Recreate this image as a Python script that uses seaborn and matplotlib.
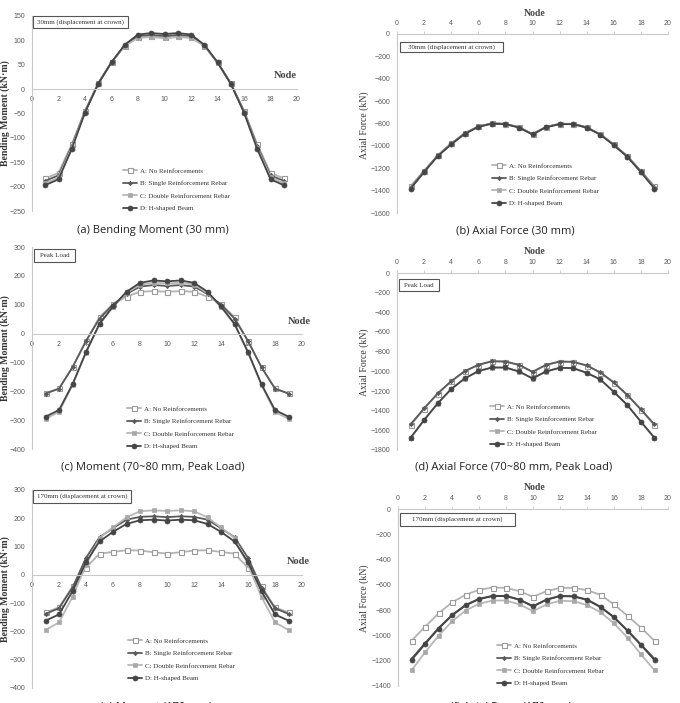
import pandas as pd
import matplotlib
matplotlib.use('Agg')
import matplotlib.pyplot as plt
import seaborn as sns
from matplotlib.lines import Line2D
from matplotlib.patches import Rectangle

W, H = 680, 703

nodes = list(range(1, 20))
cases = ['A: No Reinforcements', 'B: Single Reinforcement Rebar',
         'C: Double Reinforcement Rebar', 'D: H-shaped Beam']

# (a) bending moment, 30 mm
bm30_A = [-183, -172, -113, -44, 12, 55, 89, 106, 108, 106, 108, 106, 89, 55, 12, -44, -113, -172, -183]
bm30_B = [-188, -177, -117, -46, 12, 55, 90, 109, 111, 109, 111, 109, 90, 55, 12, -46, -117, -177, -188]
bm30_C = [-193, -181, -120, -47, 11, 54, 89, 105, 107, 104, 107, 105, 89, 54, 11, -47, -120, -181, -193]
bm30_D = [-197, -185, -123, -48, 11, 55, 91, 112, 115, 113, 115, 112, 91, 55, 11, -48, -123, -185, -197]

# (b) axial force, 30 mm
af30_A = [-1360, -1222, -1084, -978, -886, -826, -797, -802, -832, -893, -829, -802, -802, -833, -895, -987, -1090, -1222, -1360]
af30_B = [-1372, -1228, -1088, -982, -888, -828, -799, -804, -834, -896, -831, -804, -804, -835, -897, -990, -1094, -1228, -1372]
af30_C = [-1378, -1232, -1090, -985, -890, -830, -800, -805, -835, -897, -832, -805, -805, -836, -898, -992, -1096, -1232, -1378]
af30_D = [-1382, -1235, -1092, -987, -892, -831, -801, -806, -836, -898, -833, -806, -806, -837, -899, -994, -1098, -1235, -1382]

# (c) bending moment, peak load
bmpk_A = [-207, -190, -116, -25, 57, 103, 128, 145, 147, 145, 147, 145, 128, 103, 57, -25, -116, -190, -207]
bmpk_B = [-208, -191, -117, -26, 52, 100, 137, 163, 168, 165, 168, 163, 137, 100, 52, -26, -117, -191, -208]
bmpk_C = [-295, -272, -178, -66, 32, 92, 140, 170, 176, 174, 176, 170, 140, 92, 32, -66, -178, -272, -295]
bmpk_D = [-288, -265, -176, -64, 34, 94, 145, 176, 184, 181, 184, 176, 145, 94, 34, -64, -176, -265, -288]

# (d) axial force, peak load
afpk_A = [-1550, -1380, -1228, -1102, -1000, -936, -899, -902, -936, -1007, -936, -902, -905, -942, -1013, -1115, -1243, -1390, -1550]
afpk_B = [-1540, -1377, -1225, -1100, -998, -934, -897, -900, -934, -1005, -934, -900, -903, -940, -1011, -1113, -1241, -1387, -1540]
afpk_C = [-1680, -1498, -1328, -1182, -1074, -1000, -963, -963, -1003, -1074, -1003, -966, -969, -1017, -1084, -1210, -1345, -1515, -1680]
afpk_D = [-1675, -1495, -1326, -1180, -1072, -998, -961, -961, -1001, -1072, -1001, -964, -967, -1015, -1082, -1208, -1343, -1512, -1675]

# (e) bending moment, 170 mm
bm170_A = [-133, -115, -41, 25, 75, 81, 87, 86, 80, 75, 80, 86, 87, 81, 75, 25, -41, -115, -133]
bm170_B = [-138, -118, -45, 60, 133, 165, 195, 205, 207, 204, 207, 205, 195, 165, 133, 60, -45, -118, -138]
bm170_C = [-195, -168, -78, 35, 130, 168, 203, 225, 228, 226, 228, 225, 203, 168, 130, 35, -78, -168, -195]
bm170_D = [-162, -140, -58, 45, 118, 152, 180, 193, 195, 192, 195, 193, 180, 152, 118, 45, -58, -140, -162]

# (f) axial force, 170 mm
af170_A = [-1042, -932, -826, -739, -679, -639, -621, -624, -650, -695, -650, -624, -624, -642, -679, -755, -845, -939, -1042]
af170_B = [-1185, -1062, -942, -838, -760, -710, -687, -687, -716, -768, -716, -687, -690, -716, -773, -855, -960, -1072, -1185]
af170_C = [-1276, -1134, -1003, -889, -803, -750, -724, -724, -755, -808, -755, -726, -729, -760, -816, -905, -1018, -1150, -1276]
af170_D = [-1195, -1068, -947, -842, -763, -713, -689, -689, -718, -771, -718, -689, -692, -718, -776, -858, -963, -1076, -1195]

styles = [
    dict(color='#b3b3b3', marker='s', markerfacecolor='white', markeredgecolor='#9a9a9a', markersize=3.6, markeredgewidth=0.8),
    dict(color='#5a5a5a', marker='D', markerfacecolor='#5a5a5a', markeredgecolor='#5a5a5a', markersize=2.2, markeredgewidth=0.5),
    dict(color='#b8b8b8', marker='s', markerfacecolor='#a8a8a8', markeredgecolor='#a8a8a8', markersize=3.4, markeredgewidth=0.5),
    dict(color='#454545', marker='o', markerfacecolor='#454545', markeredgecolor='#454545', markersize=3.6, markeredgewidth=0.5),
]

sns.set_style('white')
plt.rcParams['font.family'] = ['Liberation Serif', 'DejaVu Sans']
tick_font = 'Liberation Sans'
tick_col = '#595959'
spine_col = '#c8c8c8'


def fx(px):
    return px / W


def fy(py):
    return 1 - py / H


def add_ax(fig, left, right, top, bottom):
    return fig.add_axes([fx(left), fy(bottom), (right - left) / W, (bottom - top) / H])


def draw_series(ax, series):
    for name, vals, st in zip(cases, series, styles):
        df = pd.DataFrame({'Node': nodes, 'Value': vals})
        sns.lineplot(data=df, x='Node', y='Value', ax=ax, linewidth=1.3,
                     legend=False, **st)


def style_ax(ax, ylim, ystep, top_axis):
    ax.set_xlim(0, 20)
    ax.set_ylim(*ylim)
    ax.set_xticks(range(0, 21, 2))
    ax.set_yticks(range(ylim[0], ylim[1] + 1, ystep))
    ax.set_xlabel('')
    ax.set_ylabel('')
    ax.spines['right'].set_visible(False)
    if top_axis:
        ax.spines['bottom'].set_visible(False)
        ax.xaxis.tick_top()
    else:
        ax.spines['top'].set_visible(False)
        ax.spines['bottom'].set_position(('data', 0))
    for s in ['left', 'top', 'bottom']:
        ax.spines[s].set_color(spine_col)
        ax.spines[s].set_linewidth(0.8)
    ax.tick_params(axis='both', length=2, width=0.6, color=spine_col,
                   labelsize=5, labelcolor=tick_col, pad=3)
    for lab in ax.get_xticklabels() + ax.get_yticklabels():
        lab.set_fontfamily(tick_font)


def add_legend(ax, px, py):
    handles = [Line2D([0], [0], linewidth=1.3, **st) for st in styles]
    ax.legend(handles, cases, loc='upper left', bbox_to_anchor=(fx(px), fy(py)),
              bbox_transform=ax.figure.transFigure, frameon=False, fontsize=5,
              handlelength=2.0, handletextpad=0.5, labelspacing=0.95,
              borderpad=0, borderaxespad=0, labelcolor='#333333')


def add_box(fig, left, right, top, bottom, text):
    fig.patches.append(Rectangle((fx(left), fy(bottom)), (right - left) / W, (bottom - top) / H,
                                 transform=fig.transFigure, facecolor='white',
                                 edgecolor='#555555', linewidth=0.8, zorder=5))
    fig.text(fx((left + right) / 2), fy((top + bottom) / 2), text, ha='center', va='center',
             fontsize=5, color='#333333', zorder=6)


fig = plt.figure(figsize=(W / 100, H / 100), dpi=100)

panels = [
    # series, axes px box, ylim, step, top axis, legend px
    ([bm30_A, bm30_B, bm30_C, bm30_D], (32, 297, 16, 211), (-250, 150), 50, False, (123, 168)),
    ([af30_A, af30_B, af30_C, af30_D], (397, 668, 34, 213), (-1600, 0), 200, True, (492, 163)),
    ([bmpk_A, bmpk_B, bmpk_C, bmpk_D], (32, 302, 247, 449), (-400, 300), 100, False, (127, 406)),
    ([afpk_A, afpk_B, afpk_C, afpk_D], (397, 668, 273, 450), (-1800, 0), 200, True, (490, 404)),
    ([bm170_A, bm170_B, bm170_C, bm170_D], (32, 302, 490, 688), (-400, 300), 100, False, (128, 638)),
    ([af170_A, af170_B, af170_C, af170_D], (398, 668, 509, 686), (-1400, 0), 200, True, (497, 643)),
]

for series, box, ylim, step, top_axis, leg in panels:
    ax = add_ax(fig, *box)
    draw_series(ax, series)
    style_ax(ax, ylim, step, top_axis)
    add_legend(ax, *leg)

# y axis titles
for py in [113, 348, 589]:
    fig.text(fx(5), fy(py), 'Bending Moment (kN\u00b7m)', rotation=90, ha='center', va='center',
             fontsize=7, fontweight='bold', color='#333333')
for py in [125, 362, 598]:
    fig.text(fx(364), fy(py), 'Axial Force (kN)', rotation=90, ha='center', va='center',
             fontsize=7, color='#333333')

# Node labels
for px, py in [(297, 76), (311, 322), (310, 562)]:
    fig.text(fx(px), fy(py), 'Node', ha='right', va='center', fontsize=7.5,
             fontweight='bold', color='#444444')
for py in [13, 251, 488]:
    fig.text(fx(535), fy(py), 'Node', ha='center', va='center', fontsize=7,
             fontweight='bold', color='#444444')

# boxed notes
add_box(fig, 33, 128, 16, 28, '30mm (displacement at crown)')
add_box(fig, 400, 503, 42, 52, '30mm (displacement at crown)')
add_box(fig, 34, 75, 249, 262, 'Peak Load')
add_box(fig, 399, 439, 279, 291, 'Peak Load')
add_box(fig, 33, 131, 490, 503, '170mm (displacement at crown)')
add_box(fig, 400, 515, 513, 526, '170mm (displacement at crown)')

# captions (the last row is cut by the lower edge, as in the source image)
cap_font = 'Open Sans'
captions = [
    (153, 231, '(a) Bending Moment (30 mm)'),
    (515, 231, '(b) Axial Force (30 mm)'),
    (153, 467, '(c) Moment (70~80 mm, Peak Load)'),
    (514, 467, '(d) Axial Force (70~80 mm, Peak Load)'),
    (156, 707, '(e) Moment (170 mm)'),
    (511, 707, '(f) Axial Force (170 mm)'),
]
for px, py, txt in captions:
    fig.text(fx(px), fy(py), txt, ha='center', va='center', fontsize=8,
             family=cap_font, color='#222222')

fig.savefig('out.png', dpi=100)
